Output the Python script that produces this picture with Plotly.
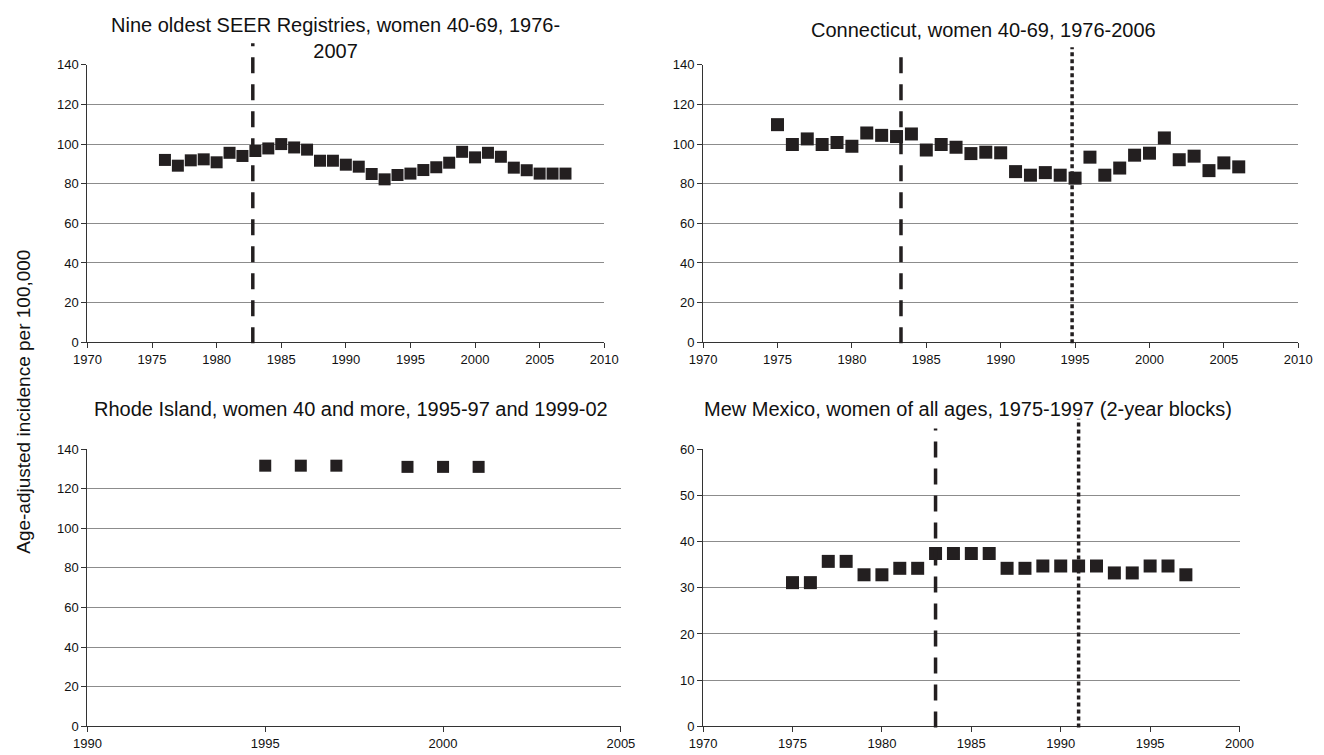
import plotly.graph_objects as go

# ---------------- data ----------------
seer_years = list(range(1976, 2008))
seer_vals = [92.0, 89.1, 91.8, 92.3, 90.8, 95.6, 94.0, 96.5, 97.8, 100.0,
             98.3, 97.2, 91.6, 91.6, 89.6, 88.6, 84.9, 82.2, 84.4, 85.1,
             86.9, 88.3, 90.6, 96.1, 93.3, 95.6, 93.6, 88.1, 86.8, 85.1,
             85.1, 85.1]

ct_years = list(range(1975, 2007))
ct_vals = [109.8, 99.8, 102.6, 99.8, 100.8, 98.9, 105.6, 104.4, 103.8, 105.1,
           97.0, 99.8, 98.4, 95.2, 95.9, 95.6, 86.1, 84.3, 85.6, 84.3,
           82.8, 93.4, 84.3, 87.9, 94.4, 95.4, 103.1, 92.1, 93.9, 86.6,
           90.5, 88.5]

ri_years = [1995, 1996, 1997, 1999, 2000, 2001]
ri_vals = [131.6, 131.6, 131.6, 131.0, 131.0, 131.0]

nm_years = list(range(1975, 1998))
nm_vals = [31.1, 31.1, 35.7, 35.7, 32.8, 32.8, 34.2, 34.2, 37.4, 37.4,
           37.4, 37.4, 34.2, 34.2, 34.7, 34.7, 34.7, 34.7, 33.2, 33.2,
           34.7, 34.7, 32.8]

titles = ["Nine oldest SEER Registries, women 40-69, 1976-<br>2007",
          "Connecticut, women 40-69, 1976-2006",
          "Rhode Island, women 40 and more, 1995-97 and 1999-02",
          "Mew Mexico, women of all ages, 1975-1997 (2-year blocks)"]
y_title = "Age-adjusted incidence per 100,000"

seer_dashed = [1982.8]
ct_dashed = [1983.3]
ct_dotted = [1994.8]
nm_dashed = [1983.0]
nm_dotted = [1991.0]

# ---------------- figure ----------------
W, H = 1324, 755
def px(x): return x / W
def py(y): return 1 - y / H

INK = "#231f20"
FONT = "Liberation Sans, Arial, sans-serif"

fig = go.Figure()
series = [(seer_years, seer_vals, "x", "y", 12),
          (ct_years, ct_vals, "x2", "y2", 13),
          (ri_years, ri_vals, "x3", "y3", 12),
          (nm_years, nm_vals, "x4", "y4", 13)]
for xs, ys, xa, ya, ms in series:
    fig.add_trace(go.Scatter(x=xs, y=ys, mode="markers", xaxis=xa, yaxis=ya,
                             marker=dict(symbol="square", size=ms, color=INK,
                                         line=dict(width=0)),
                             cliponaxis=False, showlegend=False))

# panel geometry (pixels)
panels = {
    1: dict(x0=75, x1=603, ytop=59, ybot=342, xr=[1970, 2010], yr=[0, 140], dy=20),
    2: dict(x0=704, x1=1312, ytop=59, ybot=342, xr=[1970, 2010], yr=[0, 140], dy=20),
    3: dict(x0=75, x1=620, ytop=451, ybot=734, xr=[1990, 2005], yr=[0, 140], dy=20),
    4: dict(x0=704, x1=1252, ytop=451, ybot=734, xr=[1970, 2000], yr=[0, 60], dy=10),
}
TICKFONT = dict(size=13, color="#111111", family=FONT)
layout_axes = {}
for i, p in panels.items():
    sfx = "" if i == 1 else str(i)
    layout_axes["xaxis" + sfx] = dict(
        domain=[px(p["x0"]), px(p["x1"])], range=p["xr"], dtick=5, tick0=1970,
        anchor="y" + sfx, showgrid=False, zeroline=False, showline=True,
        linecolor="#333333", linewidth=1, ticks="outside", ticklen=5,
        tickcolor="#333333", tickfont=TICKFONT, fixedrange=True)
    layout_axes["yaxis" + sfx] = dict(
        domain=[py(p["ybot"]), py(p["ytop"])], range=p["yr"], dtick=p["dy"],
        anchor="x" + sfx, showgrid=True, gridcolor="#8c8c8c", gridwidth=1,
        zeroline=False, showline=True, linecolor="#333333", linewidth=1,
        ticks="outside", ticklen=5, tickcolor="#333333",
        tickfont=TICKFONT, fixedrange=True)

shapes = []
def vline(xv, xa, ybot, ytop, dash):
    shapes.append(dict(type="line", xref=xa, yref="paper", x0=xv, x1=xv,
                       y0=py(ybot), y1=py(ytop),
                       line=dict(color=INK, width=3.5, dash=dash)))

DASH = "16px,11px"
DOT = "4px,3px"
for v in seer_dashed:
    vline(v, "x", 343, 37, DASH)
for v in ct_dashed:
    vline(v, "x2", 343, 42, DASH)
for v in ct_dotted:
    vline(v, "x2", 343, 41, DOT)
for v in nm_dashed:
    vline(v, "x4", 735, 430, DASH)
for v in nm_dotted:
    vline(v, "x4", 735, 420, DOT)

TITLEFONT = dict(size=20, color="#111111", family=FONT)
annotations = []
title_pos = [(328, 32), (990, 23), (344, 410), (975, 410)]
for t, (tx, ty) in zip(titles, title_pos):
    annotations.append(dict(text=t, x=px(tx), y=py(ty), xref="paper", yref="paper",
                            showarrow=False, xanchor="center", yanchor="middle",
                            align="center", font=TITLEFONT))
annotations.append(dict(text=y_title, x=px(10), y=py(403), xref="paper", yref="paper",
                        showarrow=False, textangle=-90, xanchor="center", yanchor="middle",
                        font=dict(size=19, color="#111111", family=FONT)))

fig.update_layout(width=W, height=H, margin=dict(l=0, r=0, t=0, b=0),
                  paper_bgcolor="white", plot_bgcolor="white",
                  shapes=shapes, annotations=annotations,
                  font=dict(family=FONT), **layout_axes)

fig.write_html("out.html", config={"displayModeBar": False},
               post_script="document.body.style.margin='0px';"
                           "document.body.style.overflow='hidden';")
